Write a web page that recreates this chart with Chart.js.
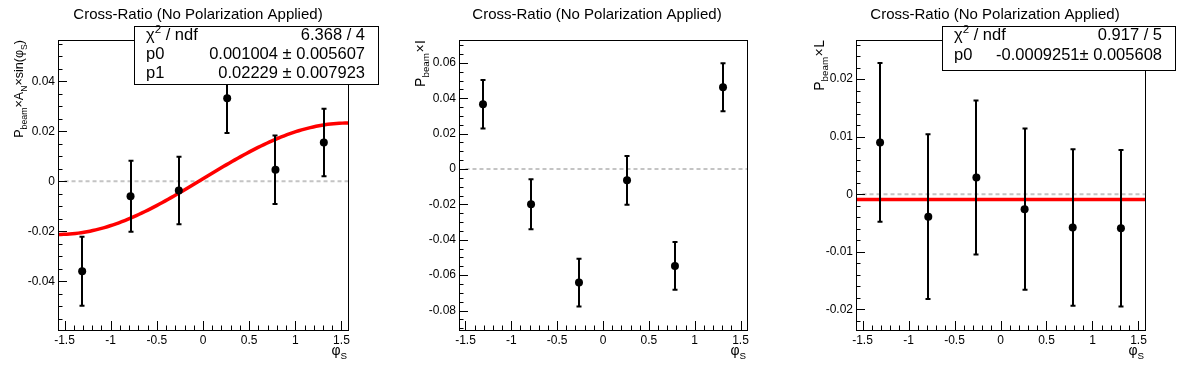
<!DOCTYPE html>
<html>
<head>
<meta charset="utf-8">
<script src="https://cdn.jsdelivr.net/npm/chart.js@4.4.0/dist/chart.umd.min.js"></script>
<style>
  html, body { margin: 0; padding: 0; background: #fff; }
  #wrap { position: relative; width: 1196px; height: 372px; }
  canvas { position: absolute; top: 0; }
</style>
</head>
<body>
<div id="wrap">
  <canvas id="c1" width="398" height="372" style="left:0px"></canvas>
  <canvas id="c2" width="399" height="372" style="left:398px"></canvas>
  <canvas id="c3" width="399" height="372" style="left:797px"></canvas>
</div>
<script>
// bin centres in phi_S (6 bins over -pi/2 .. pi/2)
const phiS = [-1.309, -0.785, -0.262, 0.262, 0.785, 1.309];

// P_beam x A_N x sin(phi_S)
const sinValues = [-0.0360, -0.0060, -0.0037, 0.0332, 0.0046, 0.0155];
const sinErrors = [0.0138, 0.0142, 0.0135, 0.0139, 0.0137, 0.0135];
// P_beam x I
const iValues = [0.0366, -0.0199, -0.0642, -0.0064, -0.0548, 0.0462];
const iErrors = [0.0137, 0.0141, 0.0135, 0.0138, 0.0135, 0.0136];
// P_beam x L
const lValues = [0.0090, -0.0039, 0.0029, -0.0026, -0.0058, -0.0059];
const lErrors = [0.0138, 0.0143, 0.0134, 0.0140, 0.0136, 0.0136];

// fit parameters, as printed in the stat boxes
const sinFitParams = [0.001004, 0.02229];   // p0 + p1*sin(x)
const lFitParams = [-0.0009251];            // p0

// tick labels
const xTicks = [-1.5, -1, -0.5, 0, 0.5, 1, 1.5];
const sinTicks = [-0.04, -0.02, 0, 0.02, 0.04];
const iTicks = [-0.08, -0.06, -0.04, -0.02, 0, 0.02, 0.04, 0.06];
const lTicks = [-0.02, -0.01, 0, 0.01, 0.02];

const FONT = '"Liberation Sans", Arial, Helvetica, sans-serif';
const HALF_PI = Math.PI / 2;

// draw a run of text pieces, some of them sub/superscript
function drawPieces(ctx, pieces, x, y, size, align) {
  const widths = pieces.map(p => {
    ctx.font = (p.sub || p.sup ? size * 0.7 : size) + 'px ' + FONT;
    return ctx.measureText(p.t).width + (p.gap || 0) * 2;
  });
  const total = widths.reduce((a, b) => a + b, 0);
  let cx = align === 'right' ? x - total : x;
  ctx.textAlign = 'left';
  ctx.textBaseline = 'alphabetic';
  pieces.forEach((p, i) => {
    ctx.font = (p.sub || p.sup ? size * 0.7 : size) + 'px ' + FONT;
    let dy = 0;
    if (p.sub) dy = size * 0.3;
    if (p.sup) dy = -size * 0.4;
    ctx.fillText(p.t, cx + (p.gap || 0), y + dy);
    cx += widths[i];
  });
}

function makePanel(id, cfg) {
  const fitData = [];
  if (cfg.fit) {
    const n = 100;
    for (let i = 0; i <= n; i++) {
      const x = -HALF_PI + (Math.PI * i) / n;
      fitData.push({ x: x, y: cfg.fit(x) });
    }
  }
  const points = phiS.map((x, i) => ({ x: x, y: cfg.values[i], err: cfg.errors[i] }));

  const rootStyle = {
    id: 'rootStyle',
    beforeDatasetDraw(chart, args) {
      if (args.index !== 0) return;
      const ctx = chart.ctx, xs = chart.scales.x, ys = chart.scales.y;
      ctx.save();
      ctx.strokeStyle = '#000';
      ctx.lineWidth = 2;
      points.forEach(p => {
        const px = Math.round(xs.getPixelForValue(p.x));
        const top = ys.getPixelForValue(p.y + p.err);
        const bot = ys.getPixelForValue(p.y - p.err);
        ctx.beginPath();
        ctx.moveTo(px, top); ctx.lineTo(px, bot);
        ctx.moveTo(px - 2.5, top); ctx.lineTo(px + 2.5, top);
        ctx.moveTo(px - 2.5, bot); ctx.lineTo(px + 2.5, bot);
        ctx.stroke();
      });
      ctx.restore();
    },
    afterDraw(chart) {
      const ctx = chart.ctx, a = chart.chartArea;
      const xs = chart.scales.x, ys = chart.scales.y;
      ctx.save();
      // frame
      ctx.strokeStyle = '#000';
      ctx.lineWidth = 1;
      ctx.strokeRect(Math.round(a.left) + 0.5, Math.round(a.top) + 0.5,
        Math.round(a.right - a.left), Math.round(a.bottom - a.top));
      // ticks inside frame
      ctx.beginPath();
      const xMinorStep = 0.1;
      for (let k = Math.ceil(xs.min / xMinorStep); k * xMinorStep <= xs.max; k++) {
        const v = k * xMinorStep;
        const major = Math.abs(v / 0.5 - Math.round(v / 0.5)) < 1e-6;
        const px = Math.round(xs.getPixelForValue(v)) + 0.5;
        ctx.moveTo(px, a.bottom);
        ctx.lineTo(px, a.bottom - (major ? 9 : 4.5));
      }
      const ys0 = cfg.yMinor, yMaj = cfg.yTicks[1] - cfg.yTicks[0];
      for (let k = Math.ceil(ys.min / ys0 - 1e-9); k * ys0 <= ys.max + 1e-12; k++) {
        const v = k * ys0;
        const major = Math.abs(v / yMaj - Math.round(v / yMaj)) < 1e-6;
        const py = Math.round(ys.getPixelForValue(v)) + 0.5;
        ctx.moveTo(a.left, py);
        ctx.lineTo(a.left + (major ? 9 : 4.5), py);
      }
      ctx.stroke();

      ctx.fillStyle = '#000';
      // title
      ctx.font = '15px ' + FONT;
      ctx.textAlign = 'center';
      ctx.textBaseline = 'alphabetic';
      ctx.fillText('Cross-Ratio (No Polarization Applied)', cfg.titleX, 18.5);
      // x-axis title
      drawPieces(ctx, [{ t: 'φ' }, { t: 'S', sub: true }], a.right - 1, 355, 14, 'right');
      // y-axis title (rotated)
      ctx.save();
      ctx.translate(cfg.yTitleX, a.top);
      ctx.rotate(-Math.PI / 2);
      drawPieces(ctx, cfg.yTitle, 0, 0, cfg.yTitleSize, 'right');
      ctx.restore();
      // stat box
      if (cfg.stats) {
        const b = cfg.statBox;
        ctx.fillStyle = '#fff';
        ctx.fillRect(b.x, b.y, b.w, b.h);
        ctx.strokeStyle = '#000';
        ctx.strokeRect(b.x + 0.5, b.y + 0.5, b.w, b.h);
        ctx.fillStyle = '#000';
        cfg.stats.forEach((row, i) => {
          const by = b.y + 13.5 + i * b.step;
          drawPieces(ctx, row[0], b.x + 12, by, 16.5, 'left');
          drawPieces(ctx, [{ t: row[1] }], b.x + b.w - 13, by, 16.5, 'right');
        });
      }
      ctx.restore();
    }
  };

  const datasets = [
    {
      label: 'data',
      data: points,
      order: 0,
      showLine: false,
      pointRadius: 4,
      pointBackgroundColor: '#000',
      pointBorderWidth: 0
    },
    {
      label: 'fit',
      data: fitData,
      order: 1,
      showLine: true,
      borderColor: '#ff0000',
      borderWidth: 3.5,
      pointRadius: 0,
      tension: 0
    },
    {
      label: 'zero',
      data: [{ x: -1.5, y: 0 }, { x: HALF_PI, y: 0 }],
      order: 2,
      showLine: true,
      borderColor: '#c4c4c4',
      borderWidth: 2,
      borderDash: [4, 3],
      pointRadius: 0
    }
  ];

  new Chart(document.getElementById(id), {
    type: 'scatter',
    data: { datasets: datasets },
    options: {
      responsive: false,
      animation: false,
      devicePixelRatio: 1,
      layout: { padding: { top: 40, right: cfg.rightPad, left: 0, bottom: 0 } },
      plugins: { legend: { display: false }, tooltip: { enabled: false } },
      scales: {
        x: {
          type: 'linear',
          min: -HALF_PI,
          max: HALF_PI,
          grid: { display: false, drawTicks: false },
          border: { display: false },
          afterBuildTicks: s => { s.ticks = xTicks.map(v => ({ value: v })); },
          afterFit: s => { s.height = 42; },
          ticks: {
            autoSkip: false, maxRotation: 0, padding: 3, color: '#000',
            font: { family: FONT, size: 12 },
            callback: v => String(v)
          }
        },
        y: {
          type: 'linear',
          min: cfg.yMin,
          max: cfg.yMax,
          grid: { display: false, drawTicks: false },
          border: { display: false },
          afterBuildTicks: s => { s.ticks = cfg.yTicks.map(v => ({ value: v })); },
          afterFit: s => { s.width = cfg.leftPad; },
          ticks: {
            autoSkip: false, padding: 3, color: '#000',
            font: { family: FONT, size: 12 },
            callback: v => (Math.abs(v) < 1e-12 ? '0' : String(+v.toFixed(4)))
          }
        }
      }
    },
    plugins: [rootStyle]
  });
}

makePanel('c1', {
  values: sinValues, errors: sinErrors,
  fit: x => sinFitParams[0] + sinFitParams[1] * Math.sin(x),
  yMin: -0.0595, yMax: 0.0565, yTicks: sinTicks, yMinor: 0.005,
  leftPad: 58, rightPad: 50, titleX: 198, yTitleX: 23, yTitleSize: 12.5,
  yTitle: [{ t: 'P' }, { t: 'beam', sub: true }, { t: '×' }, { t: 'A' }, { t: 'N', sub: true },
           { t: '×' }, { t: 'sin(φ' }, { t: 'S', sub: true }, { t: ')' }],
  statBox: { x: 134, y: 26, w: 244, h: 58, step: 19 },
  stats: [
    [[{ t: 'χ' }, { t: '2', sup: true }, { t: ' / ndf' }], '6.368 / 4'],
    [[{ t: 'p0' }], '0.001004 ± 0.005607'],
    [[{ t: 'p1' }], '0.02229 ± 0.007923']
  ]
});

makePanel('c2', {
  values: iValues, errors: iErrors,
  fit: null,
  yMin: -0.091, yMax: 0.0729, yTicks: iTicks, yMinor: 0.005,
  leftPad: 61, rightPad: 50, titleX: 199, yTitleX: 27, yTitleSize: 14,
  yTitle: [{ t: 'P' }, { t: 'beam', sub: true }, { t: '×', gap: 0.5 }, { t: 'I' }],
  statBox: null, stats: null
});

makePanel('c3', {
  values: lValues, errors: lErrors,
  fit: x => lFitParams[0],
  yMin: -0.0236, yMax: 0.0268, yTicks: lTicks, yMinor: 0.002,
  leftPad: 59, rightPad: 51, titleX: 198, yTitleX: 27, yTitleSize: 14,
  yTitle: [{ t: 'P' }, { t: 'beam', sub: true }, { t: '×', gap: 0.5 }, { t: 'L' }],
  statBox: { x: 145, y: 26, w: 233, h: 44, step: 20 },
  stats: [
    [[{ t: 'χ' }, { t: '2', sup: true }, { t: ' / ndf' }], '0.917 / 5'],
    [[{ t: 'p0' }], '-0.0009251± 0.005608']
  ]
});
</script>
</body>
</html>
